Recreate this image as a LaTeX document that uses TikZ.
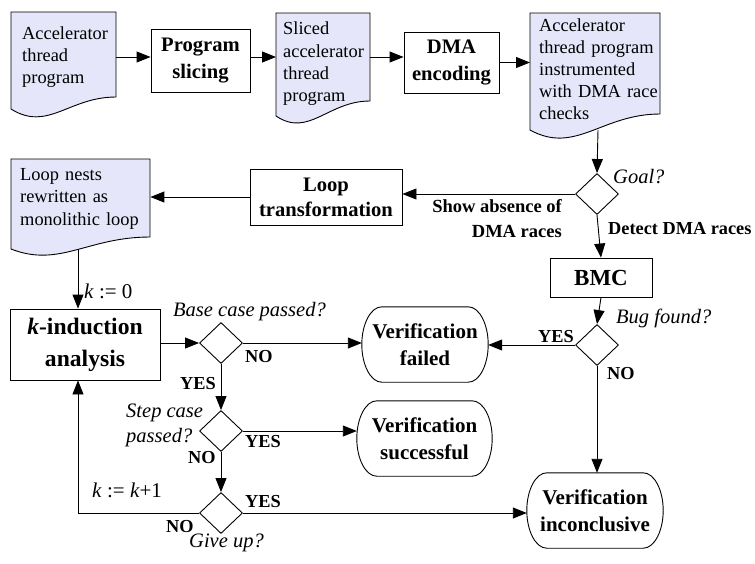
\documentclass[tikz,border=0pt]{standalone}
\usepackage{fontspec}
\setmainfont{Liberation Serif}
\usetikzlibrary{arrows.meta,shapes.geometric,calc}
\definecolor{docfill}{RGB}{230,230,250}
\newcommand\docpath[6]{\draw[docshape] (#1,#2) -- (#3,#2) -- (#3,#4) .. controls ({#3-0.45*(#3-#1)},#4) and ({#1+0.35*(#3-#1)},{#4+#6}) .. (#1,{#4+#5}) -- cycle;}
\newcommand\termpath[1]{\draw[ln] ($(#1.north west)+(20,0)$) -- ($(#1.north east)+(-20,0)$) .. controls ($(#1.north east)+(-9,0)$) and ($(#1.east)+(0,-20.7)$) .. (#1.east) .. controls ($(#1.east)+(0,20.7)$) and ($(#1.south east)+(-9,0)$) .. ($(#1.south east)+(-20,0)$) -- ($(#1.south west)+(20,0)$) .. controls ($(#1.south west)+(9,0)$) and ($(#1.west)+(0,20.7)$) .. (#1.west) .. controls ($(#1.west)+(0,-20.7)$) and ($(#1.north west)+(9,0)$) .. ($(#1.north west)+(20,0)$) -- cycle;}
\begin{document}
\begin{tikzpicture}[x=1pt,y=-1pt,
  every node/.style={inner sep=0pt},
  ln/.style={line width=0.9pt},
  docshape/.style={ln, fill=docfill},
  box/.style={draw, line width=0.9pt, font=\fontsize{20.6}{26.5}\selectfont\bfseries, align=center},
  term/.style={font=\fontsize{21}{27.5}\selectfont\bfseries, align=center, minimum height=75pt},
  doctext/.style={font=\fontsize{18.4}{22.2}\selectfont, align=left, anchor=west,
     execute at begin node={\hyphenpenalty=10000\exhyphenpenalty=10000}},
  dec/.style={diamond, draw, line width=0.9pt, minimum width=43pt, minimum height=41pt, inner sep=0pt},
  arr/.style={line width=0.9pt, -{Triangle[length=14pt,width=11pt]}},
  yn/.style={font=\fontsize{18.3}{22}\selectfont\bfseries, anchor=base west},
  q/.style={font=\fontsize{20.5}{25}\selectfont\itshape, anchor=base west},
]
\useasboundingbox (0,0) rectangle (755,563);

% document shapes
\docpath{11}{12}{116}{97}{12}{35}
\docpath{276}{13}{370}{101}{15}{37}
\docpath{530}{13}{660}{114}{16}{41}
\docpath{11}{159}{150}{237}{12}{31}

% document texts
\node[doctext, inner xsep=11pt, text width=83pt] (d1) at (11,56.8) {Accelerator\\thread\\program};
\node[doctext, inner xsep=7pt, text width=80pt] (sl) at (276,63.7) {Sliced\\accelerator\\thread\\program};
\node[doctext, inner xsep=9pt, text width=121pt] (big) at (530,69.3) {Accelerator\\thread program\\instrumented\\with DMA race\\checks};
\node[doctext, inner xsep=9pt, text width=121pt] (lnest) at (11,198.8) {Loop nests\\rewritten as\\monolithic loop};

% process boxes
\node[box, minimum width=99pt, minimum height=63pt] (slice) at (200.5,60.5) {Program\\slicing};
\node[box, minimum width=95pt, minimum height=61pt] (dma) at (451.5,62.5) {DMA\\encoding};
\node[box, minimum width=152pt, minimum height=56pt, font=\fontsize{20.6}{25}\selectfont\bfseries] (lt) at (326,197) {Loop\\transformation};
\node[box, minimum width=102pt, minimum height=39pt, font=\fontsize{23}{27}\selectfont\bfseries] (bmc) at (601,277.5) {BMC};
\node[box, minimum width=150pt, minimum height=71pt, font=\fontsize{23.6}{32}\selectfont\bfseries] (kind) at (85,344.5) {\textit{k}-induction\\analysis};

% decisions
\node[dec] (goal) at (597,194) {};
\node[dec] (base) at (221,343) {};
\node[dec] (stepd) at (221,431) {};
\node[dec] (give) at (221,513) {};
\node[dec] (bug) at (597,345) {};

% terminals
\node[term, minimum width=126pt] (fail) at (425,344.5) {Verification\\failed};
\node[term, minimum width=135pt] (succ) at (424.5,438.5) {Verification\\successful};
\node[term, minimum width=136pt] (inc) at (595,510.5) {Verification\\inconclusive};
\termpath{fail}
\termpath{succ}
\termpath{inc}

% labels
\node[q] (lgoal) at (613,183) {Goal?};
\node[font=\fontsize{18.5}{25}\selectfont\bfseries, align=right, anchor=east] (lshow) at (562,219) {Show absence of\\DMA races};
\node[yn] (ldetect) at (608,234) {Detect DMA races};
\node[q, font=\fontsize{21}{25}\selectfont] (lk0) at (84,298) {\textit{k} := 0};
\node[q] (lbase) at (173,316) {Base case passed?};
\node[yn] (lno1) at (245,362) {NO};
\node[yn] (lyes1) at (180,389) {YES};
\node[font=\fontsize{20.5}{25}\selectfont\itshape, align=left, anchor=west] (lstep) at (126,425) {Step case\\passed?};
\node[yn] (lyes2) at (245,447) {YES};
\node[yn] (lno2) at (188,463) {NO};
\node[q, font=\fontsize{21}{25}\selectfont] (lk1) at (92,497) {\textit{k} := \textit{k}+1};
\node[yn] (lyes3) at (245,507) {YES};
\node[yn] (lno3) at (166,532) {NO};
\node[q] (lgive) at (189,547) {Give up?};
\node[q] (lbug) at (616,323) {Bug found?};
\node[yn] (lyes4) at (538,342) {YES};
\node[yn] (lno4) at (607,379) {NO};

% helper coordinates
\coordinate (row1) at (0,57);
\coordinate (bigb) at (598,130);
\coordinate (lnb) at (78,249);
\coordinate (kx) at (78,0);

% connectors
\draw[arr] (d1.east |- row1) -- (slice.west |- row1);
\draw[arr] (slice.east |- row1) -- (sl.west |- row1);
\draw[arr] (sl.east |- row1) -- (dma.west |- row1);
\draw[arr] (dma.east) -- (dma.east -| big.west);
\draw[arr] (bigb) -- (goal.north);
\draw[arr] (goal.west) -- (goal.west -| lt.east);
\draw[arr] (lt.west) -- (lt.west -| lnest.east);
\draw[arr] (goal.south) -- (bmc.north);
\draw[arr] (lnb) -- (lnb |- kind.north);
\draw[arr] (kind.east |- base.west) -- (base.west);
\draw[arr] (base.east) -- (base.east -| fail.west);
\draw[arr] (base.south) -- (stepd.north);
\draw[arr] (stepd.east) -- (stepd.east -| succ.west);
\draw[arr] (stepd.south) -- (give.north);
\draw[arr] (give.east) -- (give.east -| inc.west);
\draw[arr] (give.west) -| (kx |- kind.south);
\draw[arr] (bmc.south) -- (bug.north);
\draw[arr] (bug.west) -- (bug.west -| fail.east);
\draw[arr] (bug.south) -- (bug.south |- inc.north);
\end{tikzpicture}
\end{document}
